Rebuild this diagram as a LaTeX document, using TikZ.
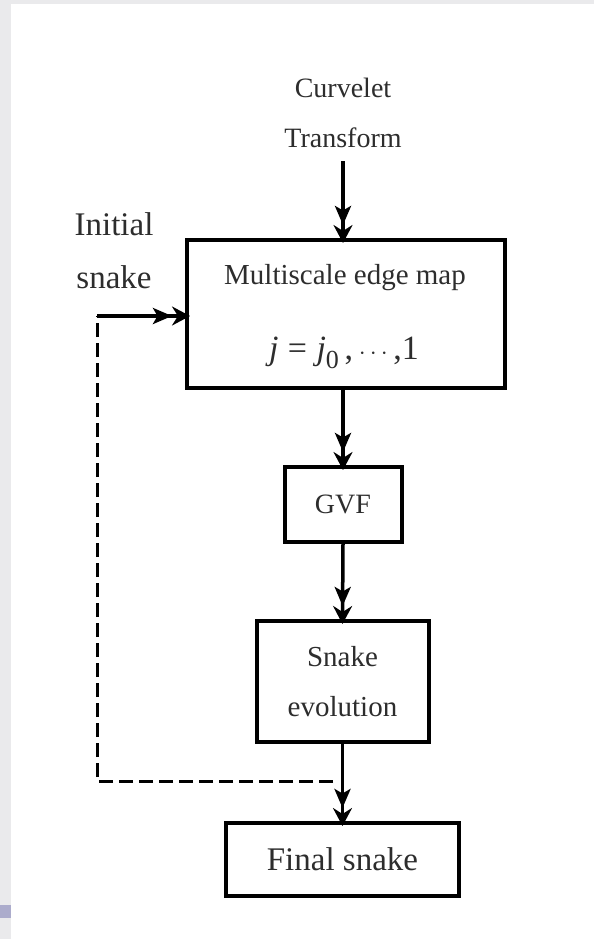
\documentclass[tikz,border=0pt]{standalone}
\usepackage{fontspec}
\setmainfont{Liberation Serif}
\usetikzlibrary{arrows.meta}
\definecolor{txt}{RGB}{45,45,45}
\definecolor{strip}{RGB}{234,234,236}
\definecolor{lav}{RGB}{172,172,204}
\begin{document}
\begin{tikzpicture}[x=1pt,y=-1pt,
  box/.style={draw, line width=4pt, inner sep=0pt, text=txt},
  lbl/.style={text=txt, inner sep=0pt, align=center},
  arr/.style={line width=3.5pt, -{Stealth[length=19pt,width=16pt,inset=4.5pt]Stealth[length=18pt,width=19pt,inset=6pt,sep=-5pt]}},
  fb/.style={line width=3pt, dash pattern=on 14pt off 6pt}]
\useasboundingbox (0,0) rectangle (594,939);
\fill[white] (0,0) rectangle (594,939);
\fill[strip] (0,0) rectangle (11,939);
\fill[strip] (0,0) rectangle (594,4);
\fill[lav] (0,905) rectangle (11,918);

\node[lbl, font=\fontsize{28}{50}\selectfont] (ct) at (343,113) {Curvelet\\Transform};
\node[lbl, font=\fontsize{33}{53}\selectfont] (init) at (114,251) {Initial\\snake};

\node[box, minimum width=318pt, minimum height=148pt] (msm) at (346,314) {};
\node[lbl, font=\fontsize{29}{29}\selectfont] (msmt) at (345,278) {Multiscale edge map};
\node[lbl, font=\fontsize{34}{34}\selectfont] (jj) at (344,353)
  {\textit{j}\;=\;\textit{j}\raisebox{-0.28em}{\fontsize{26}{26}\selectfont 0}\,,\,$\cdots$\,,1};

\node[box, minimum width=117pt, minimum height=75pt, font=\fontsize{28}{28}\selectfont] (gvf) at (343,504.5) {GVF};
\node[box, minimum width=172pt, minimum height=121pt, align=center, font=\fontsize{29}{50}\selectfont] (evo) at (342.5,681.5) {Snake\\evolution};
\node[box, minimum width=233pt, minimum height=73pt, font=\fontsize{33}{33}\selectfont] (fin) at (342.5,859.5) {Final snake};

\coordinate (dashend) at (333,781);
\coordinate (cornerB) at (97,781);
\coordinate (cornerT) at (97,316);

\draw[arr, shorten <=13pt] (ct.south) -- (ct.south |- msm.north);
\draw[arr] (msm.south -| gvf.north) -- (gvf.north);
\draw[arr] (gvf.south) -- (evo.north);
\draw[fb] (dashend) -- (cornerB) -- (cornerT);
\draw[arr] (evo.south) -- (fin.north);
\draw[arr] (cornerT) -- (cornerT -| msm.west);
\end{tikzpicture}
\end{document}
